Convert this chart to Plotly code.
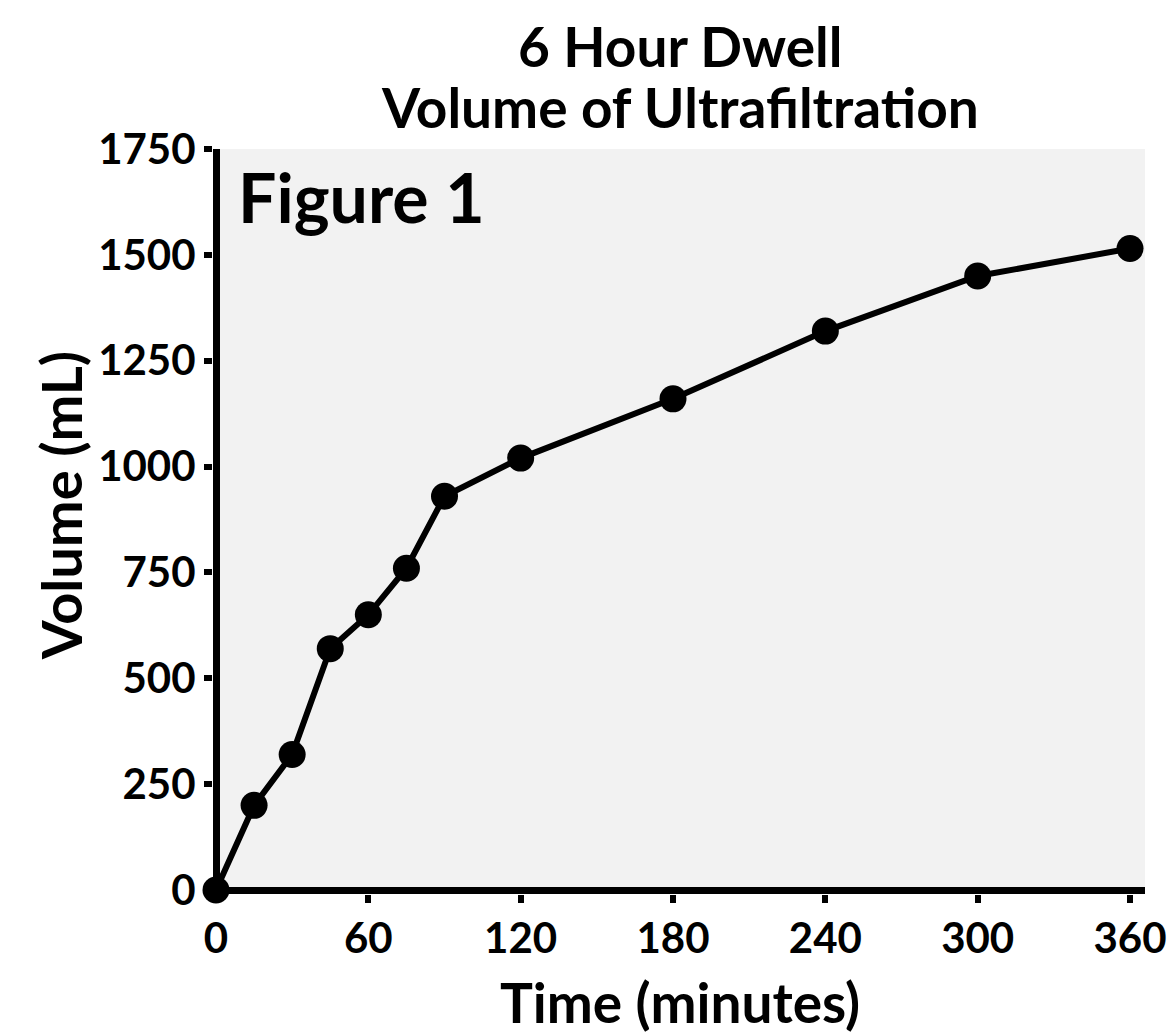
import plotly.graph_objects as go

time_min = [0, 15, 30, 45, 60, 75, 90, 120, 180, 240, 300, 360]
volume_ml = [0, 200, 320, 570, 650, 760, 930, 1020, 1160, 1320, 1450, 1515]

x_ticks = [0, 60, 120, 180, 240, 300, 360]
y_ticks = [0, 250, 500, 750, 1000, 1250, 1500, 1750]

title_line1 = "6 Hour Dwell"
title_line2 = "Volume of Ultrafiltration"
x_title = "Time (minutes)"
y_title = "Volume (mL)"
panel_label = "Figure 1"

FONT = "Lato"

fig = go.Figure()
fig.add_trace(go.Scatter(
    x=time_min, y=volume_ml, mode="lines+markers",
    line=dict(color="black", width=6),
    marker=dict(color="black", size=27),
    cliponaxis=False, showlegend=False,
))

W, H = 1168, 1034
L, R, T, B = 213, 23, 148.5, 140
pw = W - L - R
ph = H - T - B

def px_to_paper_x(px):
    return (px - L) / pw

def px_to_paper_y(py):
    return (H - B - py) / ph

axis_common = dict(
    showgrid=False, showline=False,
    zeroline=True, zerolinecolor="black", zerolinewidth=7,
    ticks="outside", ticklen=8, tickwidth=6, tickcolor="black",
    tickfont=dict(family=FONT, size=42, color="black", weight="bold"),
    layer="below traces", ticklabeloverflow="allow", automargin=False,
)

fig.update_xaxes(range=[-1.18, 365.9], tickvals=x_ticks, **axis_common)
fig.update_yaxes(range=[-9.4, 1750], tickvals=y_ticks, **axis_common)

annots = [
    dict(text=title_line1, x=px_to_paper_x(680), y=px_to_paper_y(45), size=55),
    dict(text=title_line2, x=px_to_paper_x(680), y=px_to_paper_y(106), size=55),
    dict(text=x_title, x=px_to_paper_x(680), y=px_to_paper_y(1002), size=55),
]
for a in annots:
    fig.add_annotation(
        text=a["text"], x=a["x"], y=a["y"], xref="paper", yref="paper",
        xanchor="center", yanchor="middle", showarrow=False,
        font=dict(family=FONT, size=a["size"], color="black", weight="bold"),
    )
fig.add_annotation(
    text=y_title, x=px_to_paper_x(60), y=px_to_paper_y(506), xref="paper", yref="paper",
    xanchor="center", yanchor="middle", showarrow=False, textangle=-90,
    font=dict(family=FONT, size=56, color="black", weight="bold"),
)
fig.add_annotation(
    text=panel_label, x=px_to_paper_x(236), y=px_to_paper_y(196), xref="paper", yref="paper",
    xanchor="left", yanchor="middle", showarrow=False,
    font=dict(family=FONT, size=68, color="black", weight="bold"),
)

fig.update_layout(
    width=W, height=H,
    margin=dict(l=L, r=R, t=T, b=B, autoexpand=False),
    plot_bgcolor="#f2f2f2", paper_bgcolor="white",
)

fig.write_html(
    "out.html", config={"displayModeBar": False},
    post_script=(
        "document.body.style.margin='0';"
        "document.body.style.overflow='hidden';"
        "document.documentElement.style.overflow='hidden';"
    ),
)
